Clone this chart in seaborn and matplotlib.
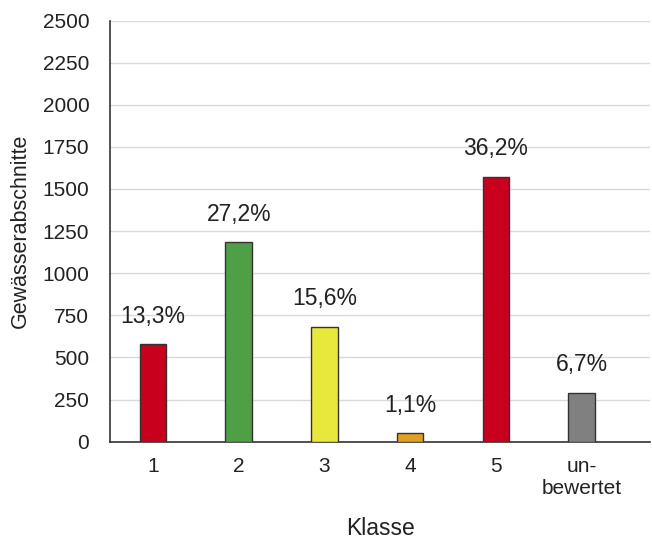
import matplotlib
matplotlib.use("Agg")
import matplotlib.pyplot as plt
import seaborn as sns
import pandas as pd

klassen = ["1", "2", "3", "4", "5", "un-\nbewertet"]
abschnitte = [578, 1184, 680, 50, 1572, 292]
anteile = ["13,3%", "27,2%", "15,6%", "1,1%", "36,2%", "6,7%"]
farben = ["#C8001E", "#4E9F45", "#E8E83C", "#E0A024", "#C8001E", "#808080"]

sns.set_style("white")
plt.rcParams["font.family"] = ["Liberation Sans", "DejaVu Sans"]

df = pd.DataFrame({"Klasse": klassen, "Abschnitte": abschnitte})

fig = plt.figure(figsize=(6.52, 5.40), dpi=100)
ax = fig.add_axes([0.169, 0.182, 0.828, 0.780])

sns.barplot(data=df, x="Klasse", y="Abschnitte", hue="Klasse", palette=farben,
            legend=False, width=0.31, edgecolor="#333333", linewidth=1.0,
            saturation=1, ax=ax, zorder=3)

for i, (v, t) in enumerate(zip(abschnitte, anteile)):
    ax.annotate(t, (i, v), xytext=(0, 12), textcoords="offset points",
                ha="center", va="bottom", fontsize=16.5, color="#222222")

ax.set_ylim(0, 2500)
ax.set_xlim(-0.5, 5.8)
ax.set_yticks(range(0, 2501, 250))
ax.yaxis.grid(True, color="#d9d9d9", linewidth=1.0, zorder=0)
ax.set_axisbelow(True)
for s in ["top", "right"]:
    ax.spines[s].set_visible(False)
for s in ["left", "bottom"]:
    ax.spines[s].set_color("#333333")
    ax.spines[s].set_linewidth(1.2)
ax.tick_params(axis="both", length=0, labelsize=15, colors="#222222")
ax.tick_params(axis="y", pad=15)
ax.tick_params(axis="x", pad=11)
ax.set_xlabel("Klasse", fontsize=16.5, color="#222222", labelpad=14)
ax.set_ylabel("Gewässerabschnitte", fontsize=15.5, color="#222222", labelpad=8)

fig.savefig("out.png", dpi=100)
